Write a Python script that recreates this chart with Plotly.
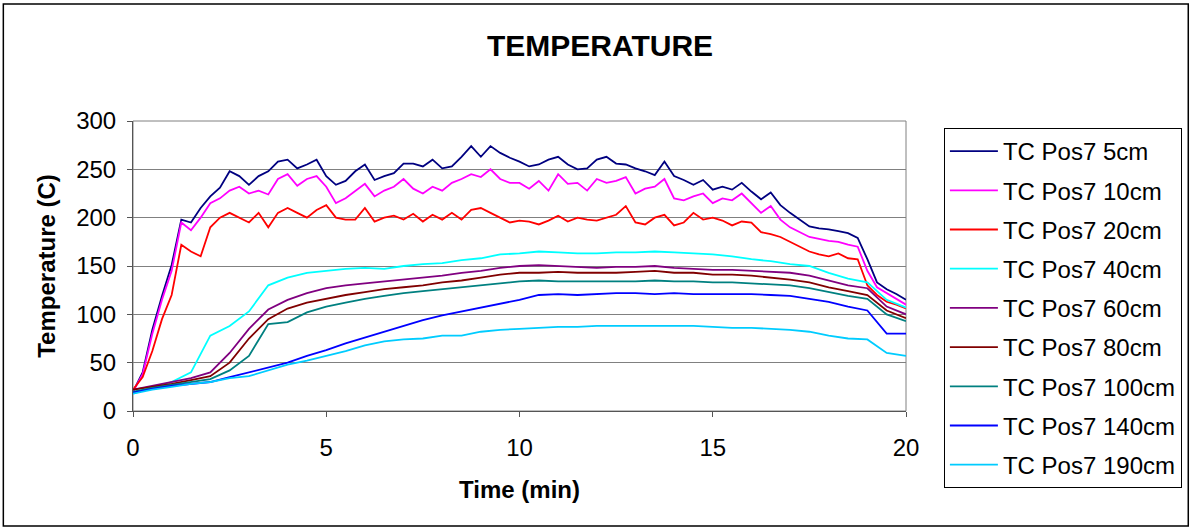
import plotly.graph_objects as go

# time grids (min)
t_noisy = [i * 0.25 for i in range(81)]
t_smooth = [i * 0.5 for i in range(39)] + [19.5, 20.0]

pos7_5cm = [20, 40, 84, 119, 151, 198, 195, 210, 222, 231, 248, 243, 234, 243, 248, 258, 260, 251, 255, 260,
            243, 234, 238, 248, 255, 239, 243, 246, 256, 256, 253, 260, 251, 253, 263, 274, 263, 274, 267, 262,
            258, 253, 255, 260, 263, 255, 250, 251, 260, 263, 256, 255, 251, 248, 244, 258, 243, 239, 234, 239,
            229, 232, 229, 236, 227, 219, 226, 213, 205, 198, 191, 189, 188, 186, 184, 179, 157, 133, 126, 121, 115]
pos7_10cm = [20, 38, 80, 115, 145, 195, 187, 200, 215, 220, 228, 232, 225, 228, 224, 240, 245, 233, 240, 243,
             232, 215, 220, 228, 235, 222, 228, 232, 240, 230, 225, 232, 228, 236, 240, 245, 242, 250, 240, 236,
             236, 230, 238, 228, 245, 235, 236, 228, 240, 236, 238, 242, 225, 230, 232, 240, 220, 218, 222, 225,
             215, 220, 218, 225, 215, 205, 212, 198, 190, 185, 180, 178, 176, 175, 172, 170, 145, 128, 122, 116, 110]
pos7_20cm = [22, 35, 62, 95, 120, 172, 165, 160, 190, 200, 205, 200, 195, 205, 190, 205, 210, 205, 200, 208,
             213, 200, 198, 198, 210, 196, 200, 202, 198, 204, 196, 203, 198, 205, 198, 208, 210, 205, 200, 195,
             197, 196, 193, 197, 202, 196, 200, 198, 197, 200, 203, 212, 195, 193, 200, 203, 192, 195, 205, 198,
             200, 197, 192, 196, 195, 185, 183, 180, 175, 170, 165, 162, 160, 163, 158, 157, 130, 120, 113, 110, 106]
pos7_40cm = [18, 24, 30, 40, 78, 88, 103, 130, 138, 143, 145, 147, 148, 147, 150, 152, 153, 156, 158, 162, 163,
             165, 164, 163, 163, 164, 164, 165, 164, 163, 162, 160, 157, 155, 152, 150, 143, 137, 133, 115, 107]
pos7_60cm = [22, 26, 30, 34, 40, 60, 85, 105, 115, 122, 127, 130, 132, 134, 136, 138, 140, 143, 145, 148, 150,
             151, 150, 149, 148, 149, 149, 150, 148, 147, 146, 146, 145, 144, 143, 140, 135, 130, 127, 108, 100]
pos7_80cm = [22, 25, 28, 32, 36, 50, 75, 95, 106, 112, 116, 120, 123, 126, 128, 130, 133, 135, 138, 141, 143,
             143, 144, 143, 143, 143, 144, 145, 143, 143, 141, 141, 140, 138, 136, 133, 128, 124, 120, 104, 96]
pos7_100cm = [20, 24, 27, 30, 33, 42, 57, 90, 92, 102, 108, 112, 116, 119, 122, 124, 126, 128, 130, 132, 134,
              135, 134, 134, 134, 134, 134, 135, 134, 134, 133, 133, 132, 131, 130, 127, 123, 119, 116, 100, 93]
pos7_140cm = [19, 23, 26, 28, 30, 35, 40, 45, 50, 57, 63, 70, 76, 82, 88, 94, 99, 103, 107, 111, 115,
              120, 121, 120, 121, 122, 122, 121, 122, 121, 121, 121, 121, 120, 119, 116, 113, 108, 104, 80, 80]
pos7_190cm = [18, 22, 25, 28, 30, 34, 36, 42, 48, 52, 57, 62, 68, 72, 74, 75, 78, 78, 82, 84, 85,
              86, 87, 87, 88, 88, 88, 88, 88, 88, 87, 86, 86, 85, 84, 82, 78, 75, 74, 60, 57]

names = ["TC Pos7 5cm", "TC Pos7 10cm", "TC Pos7 20cm", "TC Pos7 40cm", "TC Pos7 60cm",
         "TC Pos7 80cm", "TC Pos7 100cm", "TC Pos7 140cm", "TC Pos7 190cm"]
colors = ["#000080", "#FF00FF", "#FF0000", "#00FFFF", "#800080",
          "#800000", "#008080", "#0000FF", "#00CCFF"]

series = [
    (t_noisy, pos7_5cm),
    (t_noisy, pos7_10cm),
    (t_noisy, pos7_20cm),
    (t_smooth, pos7_40cm),
    (t_smooth, pos7_60cm),
    (t_smooth, pos7_80cm),
    (t_smooth, pos7_100cm),
    (t_smooth, pos7_140cm),
    (t_smooth, pos7_190cm),
]

fig = go.Figure()
for (xs, ys), nm, c in zip(series, names, colors):
    fig.add_trace(go.Scatter(x=xs, y=ys, mode="lines", name=nm, legendgroup=nm,
                             line=dict(color=c, width=1.8)))

L, R, T, B = 133, 286, 121, 118
W, H = 1194, 529
pw, ph = W - L - R, H - T - B

def px(x):
    return (x - L) / pw

def py(y):
    return (H - B - y) / ph

FONT = "Liberation Sans, Arial"
fig.update_layout(
    width=W, height=H,
    margin=dict(l=L, r=R, t=T, b=B),
    paper_bgcolor="white", plot_bgcolor="white",
    font=dict(family=FONT, size=24, color="black"),
    title=dict(text="<b>TEMPERATURE</b>", x=600 / W, xref="container", xanchor="center",
               y=1 - 45 / H, yref="container", yanchor="middle",
               font=dict(size=30, family=FONT)),
    showlegend=True,
    legend=dict(x=px(946), y=py(128), xanchor="left", yanchor="top",
                bordercolor="black", borderwidth=1, bgcolor="white",
                font=dict(size=24), traceorder="grouped", tracegroupgap=5,
                itemwidth=48, maxheight=420),
    xaxis=dict(range=[0, 20], tickvals=[0, 5, 10, 15, 20], showgrid=False, zeroline=False,
               showline=True, linecolor="#555555", linewidth=1, ticks="outside", ticklen=5,
               tickcolor="#555555", ticklabelstandoff=10,
               title=dict(text="<b>Time (min)</b>", standoff=21, font=dict(size=24))),
    yaxis=dict(range=[0, 300], tickvals=[0, 50, 100, 150, 200, 250, 300], showgrid=True,
               gridcolor="#808080", gridwidth=1, zeroline=False,
               showline=True, linecolor="#555555", linewidth=1, ticks="outside", ticklen=5,
               tickcolor="#555555", ticklabelstandoff=6,
               title=dict(text="<b>Temperature (C)</b>", standoff=13, font=dict(size=24))),
    shapes=[
        dict(type="rect", xref="paper", yref="paper", x0=0, x1=1, y0=0, y1=1,
             line=dict(color="#808080", width=1), fillcolor="rgba(0,0,0,0)", layer="below"),
        dict(type="rect", xref="paper", yref="paper", x0=px(3), x1=px(1191), y0=py(526), y1=py(4),
             line=dict(color="black", width=1.5), fillcolor="rgba(0,0,0,0)"),
    ],
)

fig.write_html("out.html", config={"displayModeBar": False},
               post_script="document.body.style.margin='0';")
